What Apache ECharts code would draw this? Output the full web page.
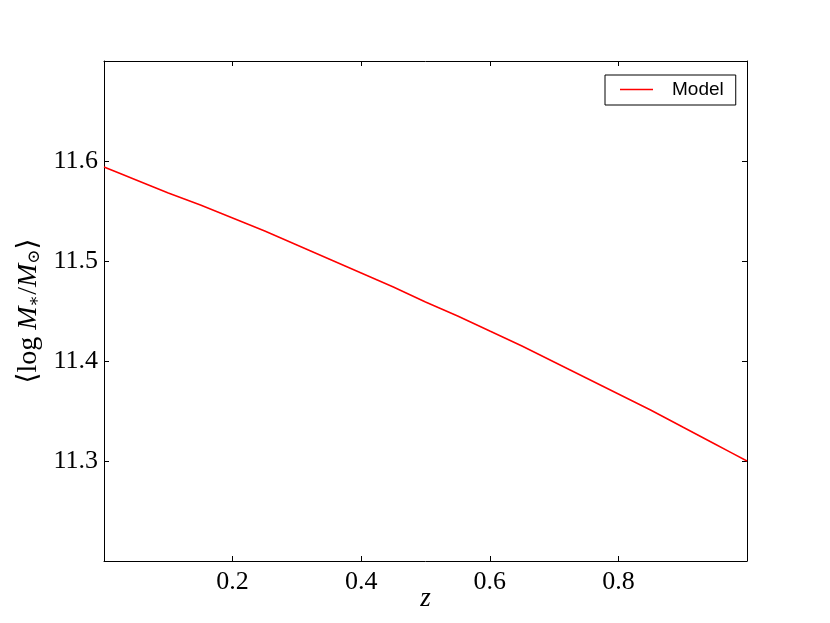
<!DOCTYPE html>
<html>
<head>
<meta charset="utf-8">
<script src="https://cdn.jsdelivr.net/npm/echarts@6/dist/echarts.min.js"></script>
<style>html,body{margin:0;padding:0;background:#fff}#c{width:830px;height:623px}</style>
</head>
<body>
<div id="c"></div>
<script>
const zValues = [0, 0.05, 0.1, 0.15, 0.2, 0.25, 0.3, 0.35, 0.4, 0.45, 0.5, 0.55, 0.6, 0.65, 0.7, 0.75, 0.8, 0.85, 0.9, 0.95, 1.0];
const modelValues = [11.594, 11.581, 11.568, 11.556, 11.543, 11.530, 11.516, 11.502, 11.488, 11.474, 11.459, 11.445, 11.430, 11.415, 11.399, 11.383, 11.367, 11.351, 11.334, 11.317, 11.300];
const xTicks = [0.2, 0.4, 0.6, 0.8];
const yTicks = [11.3, 11.4, 11.5, 11.6];
const seriesName = 'Model';

const serif = '"Liberation Serif", "DejaVu Serif", serif';
const chart = echarts.init(document.getElementById('c'));
const near = (v, arr) => arr.some(t => Math.abs(t - v) < 1e-6);

const baseAxis = {
  axisLine: { show: true, onZero: false, lineStyle: { color: '#000', width: 1 } },
  axisTick: { show: true, inside: true, length: 5, lineStyle: { color: '#000', width: 1 } },
  splitLine: { show: false },
  nameMoveOverlap: false
};

chart.setOption({
  animation: false,
  backgroundColor: '#fff',
  grid: { left: 104, right: 83, top: 61, bottom: 62, containLabel: false, outerBoundsMode: 'none' },
  legend: {
    data: [{ name: seriesName, icon: 'rect' }],
    left: 605, top: 75,
    orient: 'vertical',
    padding: [5, 12, 6, 15],
    borderColor: '#000', borderWidth: 1, borderRadius: 0,
    itemWidth: 33, itemHeight: 1.5, itemGap: 0,
    itemStyle: { color: '#ff0000' },
    textStyle: { fontFamily: '"Liberation Sans", Arial, sans-serif', fontSize: 19, color: '#000', padding: [0, 0, 0, 14] }
  },
  xAxis: [
    Object.assign({}, baseAxis, {
      type: 'value', min: 0, max: 1, interval: 0.2, position: 'bottom',
      name: 'z', nameLocation: 'middle', nameGap: 24,
      nameTextStyle: { fontFamily: serif, fontStyle: 'italic', fontSize: 27, color: '#000' },
      axisLabel: { margin: 8, fontFamily: serif, fontSize: 26, color: '#000',
        formatter: v => near(v, xTicks) ? v.toFixed(1) : '' }
    }),
    Object.assign({}, baseAxis, {
      type: 'value', min: 0, max: 1, interval: 0.2, position: 'top',
      axisLabel: { show: false }
    })
  ],
  yAxis: [
    Object.assign({}, baseAxis, {
      type: 'value', min: 11.2, max: 11.7, interval: 0.1, position: 'left',
      name: '{a|⟨log }{i|M}{s|∗}{a|/}{i|M}{s|⊙}{a|⟩}',
      nameLocation: 'middle', nameGap: 61, nameRotate: 90,
      nameTextStyle: {
        color: '#000',
        rich: {
          a: { fontFamily: serif, fontSize: 28, color: '#000', verticalAlign: 'bottom', lineHeight: 32 },
          i: { fontFamily: serif, fontSize: 28, fontStyle: 'italic', color: '#000', verticalAlign: 'bottom', lineHeight: 32 },
          s: { fontFamily: '"DejaVu Serif", serif', fontSize: 17, color: '#000', verticalAlign: 'bottom', lineHeight: 25 }
        }
      },
      axisLabel: { margin: 6, fontFamily: serif, fontSize: 26, color: '#000',
        formatter: v => near(v, yTicks) ? v.toFixed(1) : '' }
    }),
    Object.assign({}, baseAxis, {
      type: 'value', min: 11.2, max: 11.7, interval: 0.1, position: 'right',
      axisLabel: { show: false }
    })
  ],
  series: [{
    name: seriesName,
    type: 'line',
    data: zValues.map((z, i) => [z, modelValues[i]]),
    symbol: 'none',
    smooth: 0.2,
    lineStyle: { color: '#ff0000', width: 1.5 },
    itemStyle: { color: '#ff0000' }
  }]
});
</script>
</body>
</html>
